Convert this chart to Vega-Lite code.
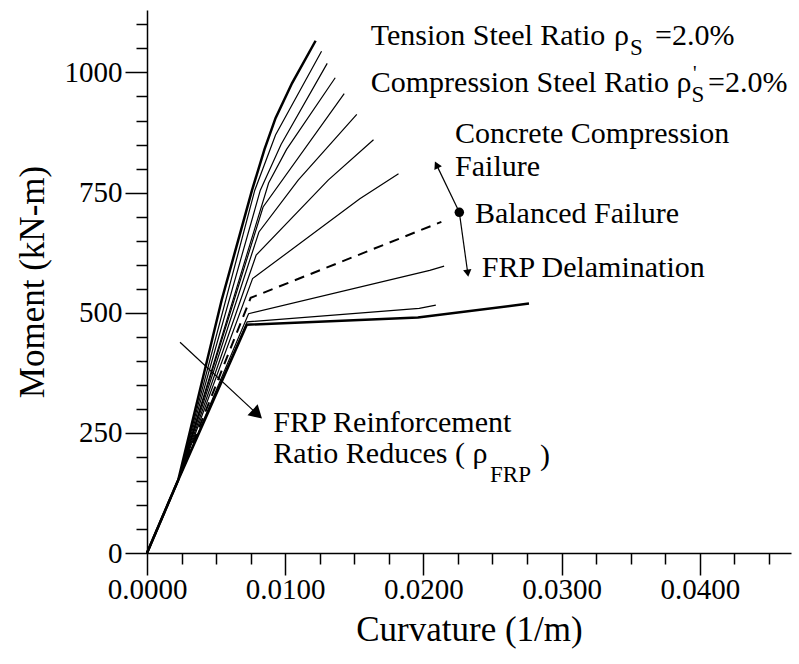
{
  "$schema": "https://vega.github.io/schema/vega-lite/v6.json",
  "width": 644,
  "height": 543,
  "autosize": {"type": "none"},
  "padding": {"left": 147, "top": 10, "right": 8, "bottom": 111},
  "background": "white",
  "config": {
    "view": {"stroke": null},
    "font": "Liberation Serif",
    "axis": {
      "domainColor": "#000", "tickColor": "#000", "labelColor": "#000", "titleColor": "#000",
      "labelFont": "Liberation Serif", "titleFont": "Liberation Serif",
      "labelFontSize": 29, "titleFontSize": 35, "titleFontWeight": "normal",
      "grid": false, "domainWidth": 1.5, "tickWidth": 1.5
    }
  },
  "datasets": {
    "curves": [
      {"c": "c1", "k": 0, "m": 0}, {"c": "c1", "k": 0.00226, "m": 152}, {"c": "c1", "k": 0.0054, "m": 526}, {"c": "c1", "k": 0.0076, "m": 755}, {"c": "c1", "k": 0.0085, "m": 840}, {"c": "c1", "k": 0.0093, "m": 905}, {"c": "c1", "k": 0.0105, "m": 978}, {"c": "c1", "k": 0.0122, "m": 1066},
      {"c": "c2", "k": 0, "m": 0}, {"c": "c2", "k": 0.00226, "m": 152}, {"c": "c2", "k": 0.0078, "m": 755}, {"c": "c2", "k": 0.0093, "m": 870}, {"c": "c2", "k": 0.01263, "m": 1044},
      {"c": "c3", "k": 0, "m": 0}, {"c": "c3", "k": 0.00226, "m": 152}, {"c": "c3", "k": 0.0082, "m": 755}, {"c": "c3", "k": 0.0097, "m": 850}, {"c": "c3", "k": 0.01304, "m": 1019},
      {"c": "c4", "k": 0, "m": 0}, {"c": "c4", "k": 0.00226, "m": 152}, {"c": "c4", "k": 0.0088, "m": 770}, {"c": "c4", "k": 0.0101, "m": 840}, {"c": "c4", "k": 0.01362, "m": 989},
      {"c": "c5", "k": 0, "m": 0}, {"c": "c5", "k": 0.00226, "m": 152}, {"c": "c5", "k": 0.0084, "m": 720}, {"c": "c5", "k": 0.01427, "m": 956},
      {"c": "c6", "k": 0, "m": 0}, {"c": "c6", "k": 0.00226, "m": 152}, {"c": "c6", "k": 0.0081, "m": 668}, {"c": "c6", "k": 0.01094, "m": 776}, {"c": "c6", "k": 0.01518, "m": 913},
      {"c": "c7", "k": 0, "m": 0}, {"c": "c7", "k": 0.00226, "m": 152}, {"c": "c7", "k": 0.0079, "m": 620}, {"c": "c7", "k": 0.01311, "m": 776}, {"c": "c7", "k": 0.01639, "m": 860},
      {"c": "c8", "k": 0, "m": 0}, {"c": "c8", "k": 0.00226, "m": 152}, {"c": "c8", "k": 0.00764, "m": 571}, {"c": "c8", "k": 0.0154, "m": 737}, {"c": "c8", "k": 0.0182, "m": 789},
      {"c": "c9", "k": 0, "m": 0}, {"c": "c9", "k": 0.00226, "m": 152}, {"c": "c9", "k": 0.0075, "m": 531}, {"c": "c9", "k": 0.0213, "m": 689},
      {"c": "c10", "k": 0, "m": 0}, {"c": "c10", "k": 0.00226, "m": 152}, {"c": "c10", "k": 0.00735, "m": 498}, {"c": "c10", "k": 0.02046, "m": 588}, {"c": "c10", "k": 0.0215, "m": 597},
      {"c": "c11", "k": 0, "m": 0}, {"c": "c11", "k": 0.00226, "m": 152}, {"c": "c11", "k": 0.00725, "m": 481}, {"c": "c11", "k": 0.0197, "m": 509}, {"c": "c11", "k": 0.0209, "m": 516},
      {"c": "c12", "k": 0, "m": 0}, {"c": "c12", "k": 0.00226, "m": 152}, {"c": "c12", "k": 0.00722, "m": 475}, {"c": "c12", "k": 0.0196, "m": 490}, {"c": "c12", "k": 0.02764, "m": 519}
    ],
    "notes": [
      {"t": "Tension Steel Ratio", "k": 0.01619, "m": 1057},
      {"t": "ρ", "k": 0.03379, "m": 1057},
      {"t": "=2.0%", "k": 0.03676, "m": 1057},
      {"t": "Compression Steel Ratio ρ", "k": 0.01619, "m": 960},
      {"t": "=2.0%", "k": 0.0406, "m": 960},
      {"t": "Concrete Compression", "k": 0.02229, "m": 853},
      {"t": "Failure", "k": 0.02229, "m": 785},
      {"t": "Balanced Failure", "k": 0.02373, "m": 687},
      {"t": "FRP Delamination", "k": 0.02422, "m": 575},
      {"t": "FRP Reinforcement", "k": 0.00914, "m": 252},
      {"t": "Ratio Reduces ( ρ", "k": 0.00914, "m": 187},
      {"t": ")", "k": 0.02844, "m": 183}
    ],
    "subs": [
      {"t": "S", "k": 0.03495, "m": 1036},
      {"t": "S", "k": 0.0394, "m": 939},
      {"t": "FRP", "k": 0.02482, "m": 148}
    ],
    "sups": [
      {"t": "'", "k": 0.0395, "m": 985}
    ],
    "arrows": [
      {"id": "frp", "k": 0.00239, "m": 438.5, "k2": 0.00798, "m2": 288.9},
      {"id": "up", "k": 0.0226, "m": 709, "k2": 0.02095, "m2": 807.7},
      {"id": "down", "k": 0.0226, "m": 709, "k2": 0.02321, "m2": 582.3}
    ],
    "heads": [
      {"id": "frp", "k": 0.00798, "m": 288.9},
      {"id": "up", "k": 0.02095, "m": 807.7},
      {"id": "down", "k": 0.02321, "m": 582.3}
    ],
    "dot": [{"k": 0.0226, "m": 709}]
  },
  "layer": [
    {
      "data": {"name": "curves"},
      "transform": [{"filter": "indexof(['c2','c3','c4','c5','c6','c7','c8','c10','c11'], datum.c) >= 0"}],
      "mark": {"type": "line", "color": "#000", "strokeWidth": 1.2},
      "encoding": {
        "x": {"field": "k", "type": "quantitative", "scale": {"domain": [0, 0.0466], "nice": false, "zero": false},
          "axis": {"orient": "bottom", "values": [0, 0.01, 0.02, 0.03, 0.04], "format": ".4f", "tickSize": 22, "labelPadding": 0, "labelFlush": false, "title": "Curvature (1/m)", "titlePadding": 8}},
        "y": {"field": "m", "type": "quantitative", "scale": {"domain": [0, 1130], "nice": false},
          "axis": {"orient": "left", "values": [0, 250, 500, 750, 1000], "format": "d", "tickSize": 22, "labelPadding": 3, "title": "Moment (kN-m)", "titlePadding": 14}},
        "detail": {"field": "c"}
      }
    },
    {
      "data": {"name": "curves"},
      "transform": [{"filter": "datum.c == 'c1' || datum.c == 'c12'"}],
      "mark": {"type": "line", "color": "#000", "strokeWidth": 2.5},
      "encoding": {
        "x": {"field": "k", "type": "quantitative", "scale": {"domain": [0, 0.0466], "nice": false, "zero": false},
          "axis": {"orient": "bottom", "values": [0.0025, 0.005, 0.0075, 0.0125, 0.015, 0.0175, 0.0225, 0.025, 0.0275, 0.0325, 0.035, 0.0375, 0.0425, 0.045], "tickSize": 11, "labels": false, "domain": false, "title": null}},
        "y": {"field": "m", "type": "quantitative", "scale": {"domain": [0, 1130], "nice": false},
          "axis": {"orient": "left", "values": [50, 100, 150, 200, 300, 350, 400, 450, 550, 600, 650, 700, 800, 850, 900, 950, 1050, 1100], "tickSize": 11, "labels": false, "domain": false, "title": null}},
        "detail": {"field": "c"}
      }
    },
    {
      "data": {"name": "curves"},
      "transform": [{"filter": "datum.c == 'c9'"}],
      "mark": {"type": "line", "color": "#000", "strokeWidth": 2, "strokeDash": [10, 7]},
      "encoding": {
        "x": {"field": "k", "type": "quantitative", "axis": null},
        "y": {"field": "m", "type": "quantitative", "axis": null}
      }
    },
    {
      "mark": {"type": "rule", "color": "#000", "strokeWidth": 1.5},
      "encoding": {"y": {"datum": 1130, "type": "quantitative", "axis": null}}
    },
    {
      "data": {"name": "arrows"},
      "mark": {"type": "rule", "color": "#000", "strokeWidth": 1.2},
      "encoding": {
        "x": {"field": "k", "type": "quantitative", "axis": null},
        "y": {"field": "m", "type": "quantitative", "axis": null},
        "x2": {"field": "k2"},
        "y2": {"field": "m2"}
      }
    },
    {
      "data": {"name": "heads"},
      "transform": [{"filter": "datum.id == 'frp'"}],
      "mark": {"type": "point", "shape": "triangle-up", "filled": true, "color": "#000", "opacity": 1, "size": 220, "angle": 133},
      "encoding": {
        "x": {"field": "k", "type": "quantitative", "axis": null},
        "y": {"field": "m", "type": "quantitative", "axis": null}
      }
    },
    {
      "data": {"name": "heads"},
      "transform": [{"filter": "datum.id == 'up'"}],
      "mark": {"type": "point", "shape": "triangle-up", "filled": true, "color": "#000", "opacity": 1, "size": 70, "angle": 334},
      "encoding": {
        "x": {"field": "k", "type": "quantitative", "axis": null},
        "y": {"field": "m", "type": "quantitative", "axis": null}
      }
    },
    {
      "data": {"name": "heads"},
      "transform": [{"filter": "datum.id == 'down'"}],
      "mark": {"type": "point", "shape": "triangle-up", "filled": true, "color": "#000", "opacity": 1, "size": 70, "angle": 172},
      "encoding": {
        "x": {"field": "k", "type": "quantitative", "axis": null},
        "y": {"field": "m", "type": "quantitative", "axis": null}
      }
    },
    {
      "data": {"name": "dot"},
      "mark": {"type": "point", "shape": "circle", "filled": true, "color": "#000", "opacity": 1, "size": 90},
      "encoding": {
        "x": {"field": "k", "type": "quantitative", "axis": null},
        "y": {"field": "m", "type": "quantitative", "axis": null}
      }
    },
    {
      "data": {"name": "notes"},
      "mark": {"type": "text", "align": "left", "baseline": "alphabetic", "font": "Liberation Serif", "fontSize": 30, "color": "#000"},
      "encoding": {
        "x": {"field": "k", "type": "quantitative", "axis": null},
        "y": {"field": "m", "type": "quantitative", "axis": null},
        "text": {"field": "t"}
      }
    },
    {
      "data": {"name": "subs"},
      "mark": {"type": "text", "align": "left", "baseline": "alphabetic", "font": "Liberation Serif", "fontSize": 23, "color": "#000"},
      "encoding": {
        "x": {"field": "k", "type": "quantitative", "axis": null},
        "y": {"field": "m", "type": "quantitative", "axis": null},
        "text": {"field": "t"}
      }
    },
    {
      "data": {"name": "sups"},
      "mark": {"type": "text", "align": "left", "baseline": "alphabetic", "font": "Liberation Serif", "fontSize": 20, "color": "#000"},
      "encoding": {
        "x": {"field": "k", "type": "quantitative", "axis": null},
        "y": {"field": "m", "type": "quantitative", "axis": null},
        "text": {"field": "t"}
      }
    }
  ],
  "resolve": {"axis": {"x": "independent", "y": "independent"}}
}
